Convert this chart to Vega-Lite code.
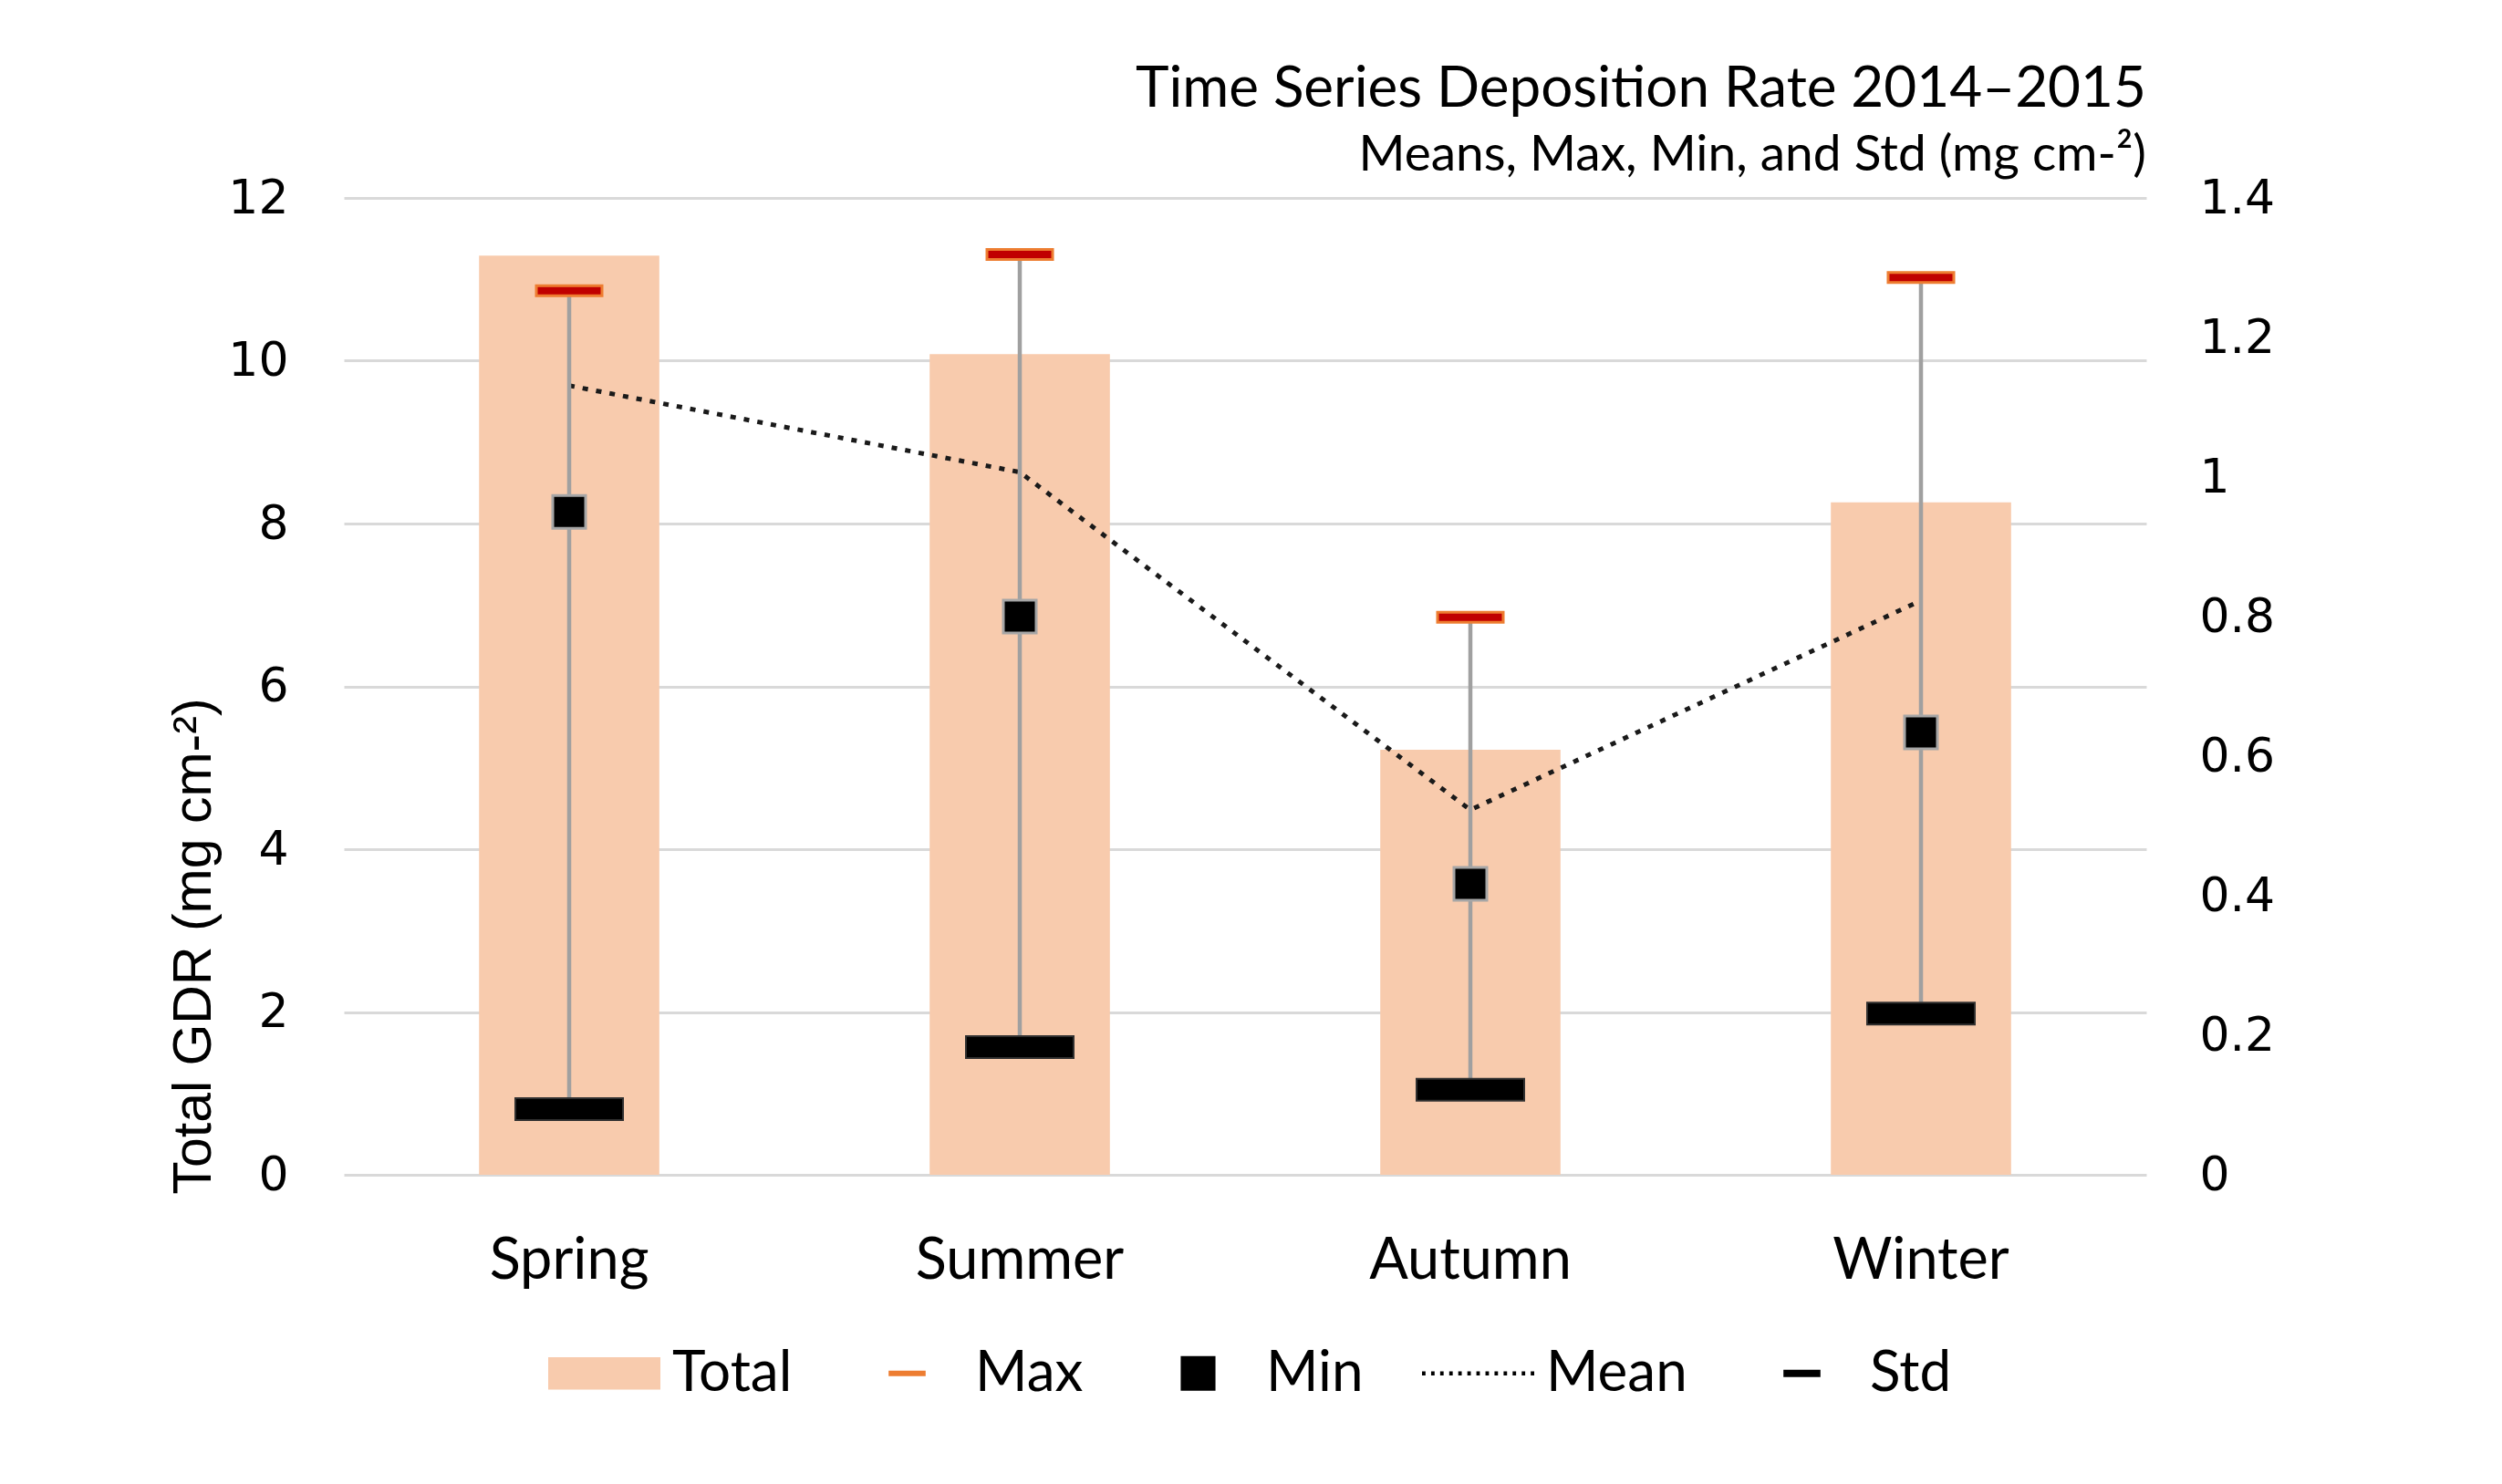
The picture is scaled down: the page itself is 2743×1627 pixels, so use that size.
{
  "$schema": "https://vega.github.io/schema/vega-lite/v6.json",
  "width": 1976,
  "height": 1071,
  "autosize": {"type": "none"},
  "padding": {"left": 377, "top": 217, "right": 390, "bottom": 339},
  "background": "white",
  "title": {
    "text": "Time Series Deposition Rate 2014–2015",
    "subtitle": "Means, Max, Min, and Std (mg cm-²)",
    "anchor": "end",
    "frame": "group",
    "font": "Lato",
    "fontSize": 62,
    "fontWeight": "normal",
    "color": "#000000",
    "subtitleFont": "Lato",
    "subtitleFontSize": 55,
    "subtitleColor": "#000000",
    "subtitlePadding": 14,
    "offset": -8
  },
  "data": {
    "values": [
      {"season": "Spring", "Total": 11.29, "Max": 1.267, "Min": 0.95, "Mean": 1.131, "Std": 0.094},
      {"season": "Summer", "Total": 10.08, "Max": 1.319, "Min": 0.8, "Mean": 1.007, "Std": 0.183},
      {"season": "Autumn", "Total": 5.22, "Max": 0.799, "Min": 0.417, "Mean": 0.523, "Std": 0.122},
      {"season": "Winter", "Total": 8.26, "Max": 1.286, "Min": 0.634, "Mean": 0.823, "Std": 0.231}
    ]
  },
  "encoding": {
    "x": {
      "field": "season",
      "type": "nominal",
      "sort": null,
      "scale": {"paddingInner": 0.6, "paddingOuter": 0.3},
      "axis": {
        "title": null,
        "labelAngle": 0,
        "labelFont": "Lato",
        "labelFontSize": 63,
        "labelPadding": 63,
        "labelLimit": 0,
        "labelColor": "#000000"
      }
    }
  },
  "layer": [
    {
      "layer": [
        {
          "mark": {"type": "bar", "color": "#f8cbad"},
          "encoding": {
            "y": {
              "field": "Total",
              "type": "quantitative",
              "scale": {"domain": [0, 12]},
              "title": "Total GDR (mg cm-²)",
              "axis": {
                "orient": "left",
                "values": [0, 2, 4, 6, 8, 10, 12],
                "format": "d",
                "grid": true,
                "gridColor": "#d9d9d9",
                "gridWidth": 3,
                "labelFont": "DejaVu Sans",
                "labelFontSize": 52,
                "labelPadding": 61,
                "labelColor": "#000000",
                "titleFont": "Liberation Sans",
                "titleFontSize": 59,
                "titleFontWeight": "normal",
                "titleColor": "#000000",
                "titleAngle": -90,
                "titleX": -147,
                "titleY": 820,
                "titleAlign": "center",
                "titleBaseline": "alphabetic"
              }
            }
          }
        },
        {
          "transform": [{"fold": ["Total", "Max", "Min", "Mean", "Std"], "as": ["series", "value"]}],
          "mark": {"type": "point", "filled": true, "opacity": 0},
          "encoding": {
            "y": {"field": "value", "type": "quantitative", "title": "Total GDR (mg cm-²)"},
            "color": {
              "field": "series",
              "type": "nominal",
              "scale": {
                "domain": ["Total", "Max", "Min", "Mean", "Std"],
                "range": ["#f8cbad", "#ed7d31", "#000000", "#000000", "#000000"]
              },
              "legend": {
                "orient": "none",
                "legendX": 224,
                "legendY": 1227,
                "encode": {"symbols": {"update": {"opacity": {"value": 1}}}}
              }
            },
            "shape": {
              "field": "series",
              "type": "nominal",
              "scale": {
                "domain": ["Total", "Max", "Min", "Mean", "Std"],
                "range": [
                  "M-1,-0.29H1V0.29H-1Z",
                  "M-0.33,-0.05H0.33V0.05H-0.33Z",
                  "M-0.31,-0.31H0.31V0.31H-0.31Z",
                  "M-1,-0.035h0.062v0.07h-0.062Z M-0.838,-0.035h0.062v0.07h-0.062Z M-0.677,-0.035h0.062v0.07h-0.062Z M-0.515,-0.035h0.062v0.07h-0.062Z M-0.354,-0.035h0.062v0.07h-0.062Z M-0.192,-0.035h0.062v0.07h-0.062Z M-0.031,-0.035h0.062v0.07h-0.062Z M0.131,-0.035h0.062v0.07h-0.062Z M0.292,-0.035h0.062v0.07h-0.062Z M0.454,-0.035h0.062v0.07h-0.062Z M0.615,-0.035h0.062v0.07h-0.062Z M0.777,-0.035h0.062v0.07h-0.062Z M0.938,-0.035h0.062v0.07h-0.062Z",
                  "M-0.33,-0.065H0.33V0.065H-0.33Z"
                ]
              },
              "legend": {
                "orient": "none",
                "legendX": 224,
                "legendY": 1227
              }
            }
          }
        }
      ]
    },
    {
      "layer": [
        {
          "mark": {"type": "line", "color": "#1a1a1a", "strokeWidth": 5, "strokeDash": [6, 9], "strokeCap": "butt"},
          "encoding": {
            "y": {
              "field": "Mean",
              "type": "quantitative",
              "scale": {"domain": [0, 1.4]},
              "axis": {
                "orient": "right",
                "values": [0, 0.2, 0.4, 0.6, 0.8, 1, 1.2, 1.4],
                "grid": false,
                "labelExpr": "format(datum.value, '.1~f')",
                "labelFont": "DejaVu Sans",
                "labelFontSize": 52,
                "labelPadding": 58,
                "labelColor": "#000000",
                "title": null
              }
            }
          }
        },
        {
          "mark": {"type": "rule", "color": "#a0a0a0", "strokeWidth": 4.5},
          "encoding": {
            "y": {"field": "Std", "type": "quantitative", "title": null},
            "y2": {"field": "Max"}
          }
        },
        {
          "mark": {"type": "tick", "color": "#c00000", "stroke": "#ed7d31", "strokeWidth": 3, "size": 72, "thickness": 11, "opacity": 1},
          "encoding": {
            "y": {"field": "Max", "type": "quantitative", "title": null}
          }
        },
        {
          "mark": {"type": "point", "shape": "square", "filled": true, "size": 1296, "fill": "#000000", "stroke": "#a6a6a6", "strokeWidth": 3, "opacity": 1},
          "encoding": {
            "y": {"field": "Min", "type": "quantitative", "title": null}
          }
        },
        {
          "mark": {"type": "tick", "color": "#000000", "stroke": "#303030", "strokeWidth": 2, "size": 118, "thickness": 24, "opacity": 1},
          "encoding": {
            "y": {"field": "Std", "type": "quantitative", "title": null}
          }
        }
      ]
    }
  ],
  "resolve": {"scale": {"y": "independent"}},
  "config": {
    "view": {"stroke": null},
    "axis": {"domain": false, "ticks": false, "grid": false},
    "legend": {
      "direction": "horizontal",
      "title": null,
      "symbolSize": 15129,
      "symbolStrokeWidth": 0,
      "labelFont": "Lato",
      "labelFontSize": 62,
      "labelColor": "#000000",
      "labelOffset": 13,
      "columnPadding": 64,
      "labelLimit": 0
    }
  }
}
